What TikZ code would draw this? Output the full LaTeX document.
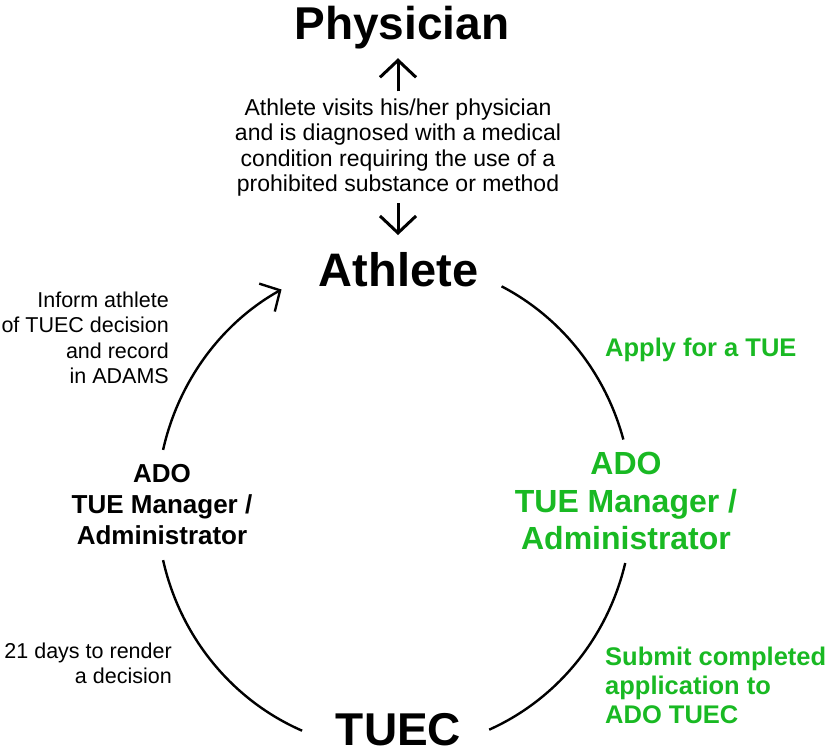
\documentclass[tikz,border=0pt]{standalone}
\usepackage{fontspec}
\setmainfont{Liberation Sans}
\usetikzlibrary{arrows.meta,calc}
\definecolor{tuegreen}{RGB}{25,185,35}
\begin{document}
\begin{tikzpicture}[x=1pt,y=1pt,
  title/.style={font=\fontsize{46}{50}\selectfont\bfseries, inner sep=0pt, anchor=base},
  small/.style={font=\fontsize{21.5}{25.3}\selectfont, inner sep=0pt},
  midb/.style={font=\fontsize{26}{31}\selectfont\bfseries, inner sep=0pt},
  bigg/.style={font=\fontsize{32}{37.5}\selectfont\bfseries, inner sep=0pt, text=tuegreen},
  greenlbl/.style={font=\fontsize{25.5}{29}\selectfont\bfseries, inner sep=0pt, text=tuegreen},
  varrow/.style={line width=3pt, -{Straight Barb[length=17pt,width=36pt]}},
  flow/.style={line width=2.4pt},
  arctip/.style={-{Straight Barb[length=15pt,width=32pt]}}
]
\useasboundingbox (0,0) rectangle (837,753);
% nodes
\node[title] (phys) at (402,713) {Physician};
\node[small, font=\fontsize{23}{25.5}\selectfont, anchor=north, align=center] (desc) at (398,654.5)
  {Athlete visits his/her physician\\and is diagnosed with a medical\\condition requiring the use of a\\prohibited substance or method};
\node[title, font=\fontsize{47}{50}\selectfont\bfseries] (ath) at (398.5,466) {Athlete};
\node[title] (tuec) at (398.5,8) {TUEC};
\node[midb, anchor=north, align=center] (adoL) at (162,289) {ADO\\TUE Manager /\\Administrator};
\node[bigg, anchor=north, align=center] (adoR) at (626,301) {ADO\\TUE Manager /\\Administrator};
\node[greenlbl, anchor=base west] (apply) at (605,396) {Apply for a TUE};
\node[greenlbl, anchor=north west, align=left] (submit) at (605,106.6) {Submit completed\\application to\\ADO TUEC};
\node[small, anchor=north east, align=right] (inform) at (169,461.3) {Inform athlete\\of TUEC decision\\and record\\in ADAMS};
\node[small, anchor=north east, align=right] (days) at (172,110.3) {21 days to render\\a decision};
% vertical arrows
\draw[varrow, shorten <=7pt, shorten >=8.5pt] (desc.north) -- (desc.north |- phys.south);
\draw[varrow, shorten <=6.5pt, shorten >=17.7pt] (desc.south) -- (desc.south |- ath.north);
% cycle arcs
\coordinate (ctr) at (394.5,248);
\coordinate (a1) at ($(ctr)+(167:237.5pt and 245pt)$);
\coordinate (a2) at ($(ctr)+(63.2:237.5pt and 245pt)$);
\coordinate (a3) at ($(ctr)+(-13.7:237.5pt and 245pt)$);
\coordinate (a4) at ($(ctr)+(193:237.5pt and 245pt)$);
\draw[flow, arctip] (a1) arc[start angle=167, end angle=118.4, x radius=237.5pt, y radius=245pt];
\draw[flow] (a2) arc[start angle=63.2, end angle=15.5, x radius=237.5pt, y radius=245pt];
\draw[flow] (a3) arc[start angle=-13.7, end angle=-66.5, x radius=237.5pt, y radius=245pt];
\draw[flow] (a4) arc[start angle=193, end angle=247.1, x radius=237.5pt, y radius=245pt];
\end{tikzpicture}
\end{document}
